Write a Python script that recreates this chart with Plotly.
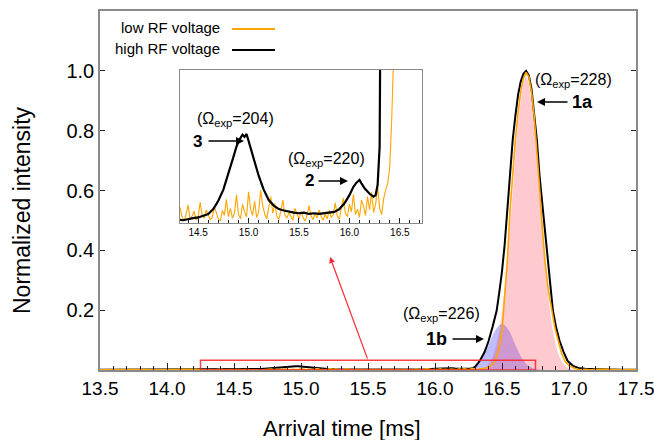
import plotly.graph_objects as go

# ---------------- data ----------------
# high RF voltage (black trace): arrival time [ms] / normalized intensity
high_rf_t = [13.50, 13.70, 13.90, 14.10, 14.25,
             14.30, 14.35, 14.40, 14.45, 14.50, 14.55, 14.60, 14.65, 14.70, 14.75,
             14.80, 14.85, 14.88, 14.91, 14.94, 14.96, 14.98, 15.00, 15.03, 15.06,
             15.10, 15.15, 15.20, 15.25, 15.30, 15.35, 15.40, 15.45, 15.50, 15.55,
             15.60, 15.65, 15.70, 15.75, 15.80, 15.85, 15.90, 15.95, 16.00, 16.04,
             16.07, 16.10, 16.12, 16.15, 16.20, 16.24, 16.26, 16.28, 16.30, 16.32,
             16.34, 16.37, 16.40, 16.43, 16.46, 16.48, 16.50, 16.52, 16.54, 16.56,
             16.58, 16.60, 16.62, 16.64, 16.66, 16.68, 16.70, 16.72, 16.74, 16.76,
             16.78, 16.80, 16.82, 16.84, 16.86, 16.88, 16.905, 16.93, 16.96, 16.99,
             17.03, 17.07, 17.12, 17.20, 17.30, 17.40, 17.50]
high_rf_i = [0.0006, 0.0008, 0.0005, 0.0007, 0.0004,
             0.0005, 0.0004, 0.0006, 0.0007, 0.0008, 0.0010, 0.0013, 0.0020, 0.0032, 0.0048,
             0.0070, 0.0095, 0.0110, 0.0120, 0.0127, 0.0124, 0.0128, 0.0118, 0.0105, 0.0090,
             0.0068, 0.0048, 0.0033, 0.0025, 0.0020, 0.0018, 0.0016, 0.0015, 0.0014, 0.0015,
             0.0013, 0.0014, 0.0013, 0.0014, 0.0015, 0.0016, 0.0020, 0.0028, 0.0040, 0.0052,
             0.0058, 0.0062, 0.0057, 0.0050, 0.0042, 0.0038, 0.0040, 0.0055, 0.0110, 0.0220,
             0.0350, 0.0600, 0.0970, 0.1450, 0.1980, 0.2600, 0.3300, 0.4200, 0.5340, 0.6500,
             0.7700, 0.8500, 0.9200, 0.9650, 0.9900, 1.0000, 0.9850, 0.9400, 0.8650, 0.7700,
             0.6500, 0.5600, 0.4500, 0.3660, 0.2800, 0.1980, 0.1400, 0.0970, 0.0600, 0.0300,
             0.0140, 0.0070, 0.0040, 0.0020, 0.0015, 0.0010, 0.0010]

# low RF voltage (orange trace)
low_rf_t = [13.50, 13.60, 13.70, 13.80, 13.90, 14.00, 14.10, 14.20,
            14.26, 14.28, 14.30, 14.32, 14.34, 14.36, 14.38, 14.40, 14.42, 14.44,
            14.46, 14.48, 14.50, 14.52, 14.54, 14.56, 14.58,
            14.60, 14.62, 14.64, 14.66, 14.68, 14.70, 14.72, 14.74, 14.76, 14.78,
            14.80, 14.82, 14.84, 14.86, 14.88, 14.90, 14.92, 14.94, 14.96, 14.98,
            15.00, 15.02, 15.04, 15.06, 15.08, 15.10, 15.12, 15.14, 15.16, 15.18,
            15.20, 15.22, 15.24, 15.26, 15.28, 15.30, 15.32, 15.34, 15.36, 15.38,
            15.40, 15.42, 15.44, 15.46, 15.48, 15.50, 15.52, 15.54, 15.56, 15.58,
            15.60, 15.62, 15.64, 15.66, 15.68, 15.70, 15.72, 15.74, 15.76, 15.78,
            15.80, 15.82, 15.84, 15.86, 15.88, 15.90, 15.92, 15.94, 15.96, 15.98,
            16.00, 16.02, 16.04, 16.06, 16.08, 16.10, 16.12, 16.14, 16.16, 16.18,
            16.20, 16.22, 16.24, 16.26, 16.28, 16.30, 16.32, 16.34, 16.36, 16.38,
            16.40, 16.42, 16.44, 16.46, 16.48, 16.50, 16.52, 16.54, 16.56, 16.58,
            16.60, 16.62, 16.64, 16.66, 16.68, 16.70, 16.72, 16.74, 16.76, 16.78,
            16.80, 16.82, 16.845, 16.87, 16.895, 16.92, 16.945, 16.97, 17.00, 17.04,
            17.08,
            17.12, 17.16, 17.20, 17.25, 17.30, 17.35, 17.40, 17.45, 17.50]
low_rf_i = [0.0010, 0.0020, 0.0008, 0.0018, 0.0006, 0.0015, 0.0009, 0.0020,
            0.0008, 0.0014, 0.0005, 0.0022, 0.0009, 0.0003, 0.0012, 0.0026, 0.0006, 0.0010,
            0.0017, 0.0004, 0.0009, 0.0030, 0.0011, 0.0007, 0.0019,
            0.0013, 0.0005, 0.0008, 0.0024, 0.0015, 0.0006, 0.0003, 0.0018, 0.0011, 0.0034,
            0.0009, 0.0021, 0.0007, 0.0014, 0.0040, 0.0012, 0.0006, 0.0027, 0.0016, 0.0009,
            0.0045, 0.0020, 0.0011, 0.0031, 0.0008, 0.0016, 0.0047, 0.0025, 0.0013, 0.0006,
            0.0022, 0.0038, 0.0014, 0.0028, 0.0010, 0.0005, 0.0017, 0.0033, 0.0012, 0.0007,
            0.0015, 0.0009, 0.0004, 0.0021, 0.0012, 0.0006, 0.0017, 0.0008, 0.0003, 0.0011,
            0.0025, 0.0010, 0.0005, 0.0014, 0.0007, 0.0019, 0.0009, 0.0004, 0.0013, 0.0006,
            0.0018, 0.0008, 0.0012, 0.0029, 0.0010, 0.0005, 0.0022, 0.0036, 0.0014, 0.0009,
            0.0027, 0.0016, 0.0041, 0.0012, 0.0020, 0.0008, 0.0033, 0.0024, 0.0011, 0.0038,
            0.0019, 0.0044, 0.0015, 0.0027, 0.0052, 0.0021, 0.0012, 0.0035, 0.0048, 0.0057,
            0.0080, 0.0150, 0.0250, 0.0450, 0.0750, 0.1300, 0.2500, 0.3660, 0.5340, 0.6600,
            0.7700, 0.8600, 0.9300, 0.9750, 0.9950, 0.9800, 0.9300, 0.8500, 0.7400, 0.6100,
            0.4800, 0.3660, 0.2700, 0.1980, 0.1400, 0.0970, 0.0550, 0.0300, 0.0150, 0.0060,
            0.0010,
            0.0020, 0.0008, 0.0025, 0.0010, 0.0020, 0.0006, 0.0018, 0.0009, 0.0012]

# fitted component 1a (pink) and 1b (blue)
fit_1a_t = [16.28, 16.33, 16.38, 16.43, 16.48, 16.53, 16.58, 16.63, 16.68,
            16.73, 16.78, 16.83, 16.88, 16.93, 16.98, 17.03, 17.08]
fit_1a_i = [0.0003, 0.0021, 0.011, 0.043, 0.133, 0.318, 0.594, 0.865, 0.980,
            0.865, 0.594, 0.318, 0.133, 0.043, 0.011, 0.0021, 0.0003]
fit_1b_t = [16.20, 16.25, 16.30, 16.35, 16.40, 16.45, 16.50, 16.55, 16.60,
            16.65, 16.70, 16.75, 16.80]
fit_1b_i = [0.0006, 0.0033, 0.0131, 0.0387, 0.0836, 0.133, 0.155, 0.133, 0.0836,
            0.0387, 0.0131, 0.0033, 0.0006]

x_ticks = [13.5, 14.0, 14.5, 15.0, 15.5, 16.0, 16.5, 17.0, 17.5]
y_ticks = [0.2, 0.4, 0.6, 0.8, 1.0]
inset_ticks = [14.5, 15.0, 15.5, 16.0, 16.5]
zoom_box = [14.25, 16.75, 0.0, 0.033]

assert len(high_rf_t) == len(high_rf_i)
assert len(low_rf_t) == len(low_rf_i)

# ---------------- figure ----------------
FONT = "Liberation Sans, Arial, Helvetica, sans-serif"
W, H = 654, 440
L, R, T, B = 100, 18, 11, 70
PW, PH = W - L - R, H - T - B


def px(x):
    return (x - L) / PW


def py(y):
    return (H - B - y) / PH


ORANGE = "#FFA500"
fig = go.Figure()

fig.add_trace(go.Scatter(x=fit_1b_t, y=fit_1b_i, mode="lines", line=dict(width=0, shape="spline"),
                         fill="tozeroy", fillcolor="rgba(40,40,255,0.30)", showlegend=False,
                         xaxis="x", yaxis="y"))
fig.add_trace(go.Scatter(x=fit_1a_t, y=fit_1a_i, mode="lines", line=dict(width=0, shape="spline"),
                         fill="tozeroy", fillcolor="rgba(255,20,50,0.23)", showlegend=False,
                         xaxis="x", yaxis="y"))
fig.add_trace(go.Scatter(x=high_rf_t, y=high_rf_i, mode="lines", line=dict(color="black", width=2),
                         showlegend=False, xaxis="x", yaxis="y"))
fig.add_trace(go.Scatter(x=low_rf_t, y=low_rf_i, mode="lines", line=dict(color=ORANGE, width=1.6),
                         showlegend=False, xaxis="x", yaxis="y"))

# inset
fig.add_trace(go.Scatter(x=low_rf_t, y=low_rf_i, mode="lines", line=dict(color=ORANGE, width=1.1),
                         showlegend=False, xaxis="x2", yaxis="y2"))
fig.add_trace(go.Scatter(x=high_rf_t, y=high_rf_i, mode="lines", line=dict(color="black", width=2.2),
                         showlegend=False, xaxis="x2", yaxis="y2"))

AX_LINE = "#8a8a8a"
tick_font = dict(family=FONT, size=19, color="black")

fig.update_layout(
    width=W, height=H,
    margin=dict(l=L, r=R, t=T, b=B, autoexpand=False),
    paper_bgcolor="white", plot_bgcolor="white",
    showlegend=False,
    xaxis=dict(domain=[0, 1], range=[13.5, 17.5], tickvals=x_ticks,
               ticktext=[f"{v:.1f}" for v in x_ticks], ticks="inside", ticklen=7,
               tickcolor="#222", tickwidth=1, showline=True, linecolor=AX_LINE, linewidth=1.5,
               mirror=True, showgrid=False, zeroline=False, tickfont=tick_font,
               ticklabeloverflow="allow",
               minor=dict(dtick=0.1, tick0=13.5, ticks="inside", ticklen=4, tickcolor="#222",
                          tickwidth=1, showgrid=False)),
    yaxis=dict(domain=[0, 1], range=[0, 1.2], tickvals=y_ticks,
               ticktext=[f"{v:.1f}" for v in y_ticks], ticks="inside", ticklen=5,
               tickcolor="#222", showline=True, linecolor=AX_LINE, linewidth=1.5,
               mirror="ticks", showgrid=False, zeroline=False,
               tickfont=dict(family=FONT, size=20, color="black")),
    xaxis2=dict(domain=[px(180), px(422)], anchor="y2", range=[14.32, 16.72],
                tickvals=inset_ticks, ticktext=[f"{v:.1f}" for v in inset_ticks],
                ticks="inside", ticklen=5, tickcolor="#222", showline=True, linecolor=AX_LINE,
                linewidth=1.2, mirror=True, showgrid=False, zeroline=False,
                tickfont=dict(family=FONT, size=10, color="black"),
                minor=dict(dtick=0.1, tick0=14.5, ticks="inside", ticklen=3, tickcolor="#222",
                           showgrid=False)),
    yaxis2=dict(domain=[py(223), py(70)], anchor="x2", range=[0, 0.022], showticklabels=False,
                ticks="", showline=True, linecolor=AX_LINE, linewidth=1.2, mirror=True,
                showgrid=False, zeroline=False),
)

# zoom box
fig.add_shape(type="rect", xref="x", yref="y", x0=zoom_box[0], x1=zoom_box[1], y0=zoom_box[2],
              y1=zoom_box[3], line=dict(color="rgba(255,30,40,0.85)", width=1.5), layer="above")

ann = []
# red arrow from the zoom box to the inset
ann.append(dict(xref="x", yref="y", axref="x", ayref="y",
                x=13.5 + (330 - L) / (PW / 4.0), y=(H - B - 257) / (PH / 1.2),
                ax=15.5, ay=zoom_box[3], text="", showarrow=True, arrowhead=2,
                arrowsize=1, arrowwidth=1.2, arrowcolor="rgba(255,30,40,0.95)"))


def label(text, x, y, size, bold=False, anchor="center"):
    t = f"<b>{text}</b>" if bold else text
    ann.append(dict(xref="paper", yref="paper", x=px(x), y=py(y), text=t, showarrow=False,
                    xanchor=anchor, yanchor="middle",
                    font=dict(family=FONT, size=size, color="black")))


def arrow(x_tail, x_tip, y):
    ann.append(dict(xref="paper", yref="paper", x=px(x_tip), y=py(y), ax=x_tail - x_tip, ay=0,
                    text="", showarrow=True, arrowhead=2, arrowsize=1, arrowwidth=1.6,
                    arrowcolor="black"))


OM = "(\u03a9<sub>exp</sub>=%d)"
label(OM % 228, 573, 80, 16)
label("1a", 582, 102, 18, bold=True)
arrow(569, 537, 102)
label(OM % 226, 441, 314, 16)
label("1b", 436, 339, 18, bold=True)
arrow(451, 484, 339)
label(OM % 204, 235, 119, 16)
label("3", 197, 141, 17, bold=True)
arrow(207, 244, 141)
label(OM % 220, 326, 160, 16)
label("2", 309, 181, 17, bold=True)
arrow(317, 348, 181)

# legend
label("low RF voltage", 222, 28, 15, anchor="right")
label("high RF voltage", 222, 49, 15, anchor="right")
fig.add_shape(type="line", xref="paper", yref="paper", x0=px(232), x1=px(275), y0=py(29), y1=py(29),
              line=dict(color=ORANGE, width=2))
fig.add_shape(type="line", xref="paper", yref="paper", x0=px(232), x1=px(275), y0=py(50), y1=py(50),
              line=dict(color="black", width=2))

# axis titles
ann.append(dict(xref="paper", yref="paper", x=px(342), y=py(428), text="Arrival time [ms]",
                showarrow=False, xanchor="center", yanchor="middle",
                font=dict(family=FONT, size=22, color="black")))
ann.append(dict(xref="paper", yref="paper", x=px(22), y=py(210), text="Normalized intensity",
                showarrow=False, xanchor="center", yanchor="middle", textangle=-90,
                font=dict(family=FONT, size=23, color="black")))

fig.update_layout(annotations=ann)
fig.write_html("out.html", config={"displayModeBar": False},
               post_script="document.body.style.margin='0px';document.body.style.overflow='hidden';")
